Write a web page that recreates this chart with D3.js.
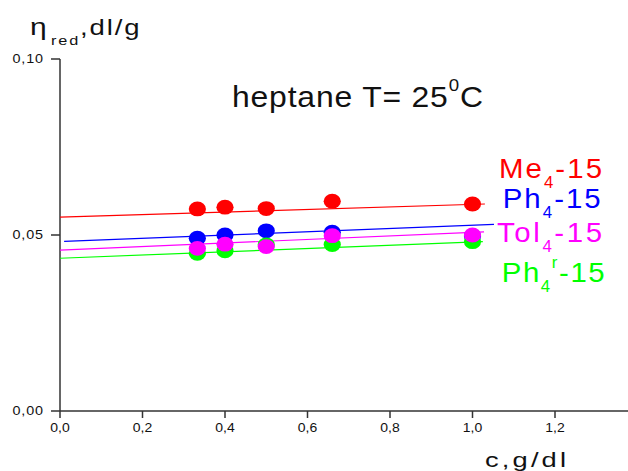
<!DOCTYPE html>
<html><head><meta charset="utf-8">
<script src="https://cdn.jsdelivr.net/npm/d3@7"></script>
<style>
html,body{margin:0;padding:0;background:#fff;}
svg{display:block;font-family:"Liberation Sans",Arial,sans-serif;}
</style></head>
<body>
<script>
// ---- data ----
const concentrations = [0.333, 0.4, 0.5, 0.66, 1.0];
const me4  = [0.0574, 0.0579, 0.0575, 0.0596, 0.0588];
const ph4  = [0.0491, 0.0500, 0.0512, 0.0508, 0.0497];
const tol4 = [0.0462, 0.0474, 0.0467, 0.0498, 0.0500];
const ph4r = [0.0448, 0.0455, 0.0472, 0.0473, 0.0481];
// fitted lines: [c0, eta0, c1, eta1]
const me4Fit  = [0.0,  0.0551, 1.030, 0.0588];
const ph4Fit  = [0.01, 0.0482, 1.052, 0.0530];
const tol4Fit = [0.0,  0.0457, 1.028, 0.0509];
const ph4rFit = [0.0,  0.0434, 1.025, 0.0481];
const xTicks = [0, 0.2, 0.4, 0.6, 0.8, 1.0, 1.2];
const xTickLabels = ["0,0","0,2","0,4","0,6","0,8","1,0","1,2"];
const yTicks = [0, 0.05, 0.10];
const yTickLabels = ["0,00","0,05","0,10"];
const seriesNames = ["Me", "Ph", "Tol", "Ph"];
const colors = ["#ff0000", "#0000ff", "#ff00ff", "#00ff00"];

const W = 628, H = 471;
const svg = d3.select("body").append("svg").attr("width", W).attr("height", H);

const x = d3.scaleLinear().domain([0, 1]).range([60, 472.5]);
const y = d3.scaleLinear().domain([0, 0.10]).range([411, 59]);

// stretched text helper: text drawn at local origin, scaled horizontally
function stext(px, py, size, sx){
  return svg.append("text")
    .attr("transform", `translate(${px},${py}) scale(${sx},1)`)
    .attr("font-size", size);
}
function fit(sel, target, sx){
  const n = sel.text().length;
  const w = sel.node().getComputedTextLength();
  sel.attr("letter-spacing", ((target / sx - w) / (n - 1)).toFixed(2));
}

// axes
const axisCol = "#333";
svg.append("line").attr("x1", x(0)).attr("x2", W).attr("y1", y(0)).attr("y2", y(0))
  .attr("stroke", axisCol).attr("stroke-width", 1.5);
svg.append("line").attr("x1", x(0)).attr("x2", x(0)).attr("y1", y(0.10)).attr("y2", y(0))
  .attr("stroke", axisCol).attr("stroke-width", 1.5);

xTicks.forEach((t, i) => {
  svg.append("line").attr("x1", x(t)).attr("x2", x(t)).attr("y1", y(0)).attr("y2", y(0) + 7)
    .attr("stroke", axisCol).attr("stroke-width", 1.5);
  const sx = 1.12;
  const tx = stext(x(t) - 9.8, 432, 12.5, sx).attr("fill", "#111").text(xTickLabels[i]);
  fit(tx, 19.6, sx);
});
yTicks.forEach((t, i) => {
  svg.append("line").attr("x1", x(0) - 9).attr("x2", x(0)).attr("y1", y(t)).attr("y2", y(t))
    .attr("stroke", axisCol).attr("stroke-width", 1.5);
  const sx = 1.15;
  const tx = stext(12.5, y(t) + 4.4, 12.5, sx).attr("fill", "#111").text(yTickLabels[i]);
  fit(tx, 30.5, sx);
});

// fit lines
const fits = [me4Fit, ph4Fit, tol4Fit, ph4rFit];
fits.forEach((f, i) => {
  svg.append("line").attr("x1", x(f[0])).attr("y1", y(f[1])).attr("x2", x(f[2])).attr("y2", y(f[3]))
    .attr("stroke", colors[i]).attr("stroke-width", 1.2);
});

// points (draw order: red, blue, green, magenta)
const seriesVals = [me4, ph4, tol4, ph4r];
[0, 1, 3, 2].forEach(i => {
  svg.append("g").selectAll("ellipse").data(seriesVals[i]).join("ellipse")
    .attr("cx", (d, j) => x(concentrations[j])).attr("cy", d => y(d))
    .attr("rx", 8.6).attr("ry", 7.4).attr("fill", colors[i]);
});

// y title
{
  const sx = 1.25;
  const yt = stext(30, 35, 22, sx).attr("fill", "#111");
  yt.append("tspan").attr("font-size", 24).text("η");
  yt.append("tspan").attr("dy", 10).attr("font-size", 13).attr("dx", 2).text("red");
  yt.append("tspan").attr("dy", -10).text(",dl/g");
  fit(yt, 107, sx);
}

// x title
{
  const sx = 1.3;
  const xt = stext(485, 466.5, 21, sx).attr("fill", "#111").text("c,g/dl");
  fit(xt, 81, sx);
}

// chart title
{
  const sx = 1.1;
  const tt = stext(232, 106.7, 29, sx).attr("fill", "#111");
  tt.append("tspan").text("heptane T= 25");
  tt.append("tspan").attr("dy", -16).attr("font-size", 17).text("0");
  tt.append("tspan").attr("dy", 16).text("C");
  fit(tt, 251, sx);
}

// legend
const legend = [
  {i:0, x:499, base:178.3, sub:"4", sup:null, w:103},
  {i:1, x:502.7, base:208.3, sub:"4", sup:null, w:98},
  {i:2, x:497, base:241.7, sub:"4", sup:null, w:105},
  {i:3, x:501.7, base:281.7, sub:"4", sup:"r", w:103}
];
legend.forEach(L => {
  const sx = 1.05;
  const t = stext(L.x, L.base, 28, sx).attr("fill", colors[L.i]);
  t.append("tspan").text(seriesNames[L.i]);
  t.append("tspan").attr("dy", 10).attr("font-size", 16).text(L.sub);
  if (L.sup) {
    t.append("tspan").attr("dy", -24).attr("font-size", 16).text(L.sup);
    t.append("tspan").attr("dy", 14).text("-15");
  } else {
    t.append("tspan").attr("dy", -10).text("-15");
  }
  fit(t, L.w, sx);
});
</script>
</body></html>
